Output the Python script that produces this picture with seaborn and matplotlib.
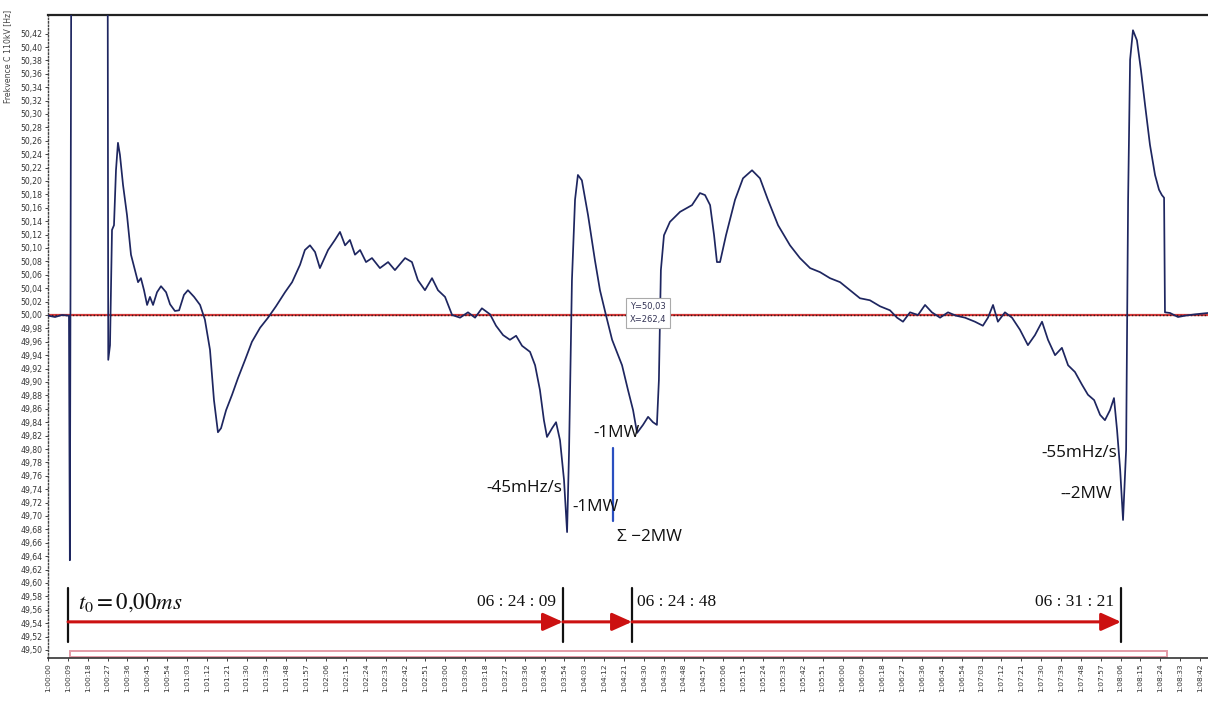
import numpy as np
import pandas as pd
import matplotlib
matplotlib.use("Agg")
import matplotlib.pyplot as plt
import seaborn as sns
from matplotlib.patches import Rectangle

# ---------------- data ----------------
time_s = [0.0, 3.2, 6.3, 9.5, 9.9, 10.6, 27.0, 27.3, 28.1, 29.0, 29.9, 30.8, 31.7, 32.6, 34.0,
          35.8, 37.6, 39.4, 40.8, 42.1, 43.5, 44.9, 46.2, 47.6, 49.4, 51.2, 53.5, 55.3, 57.5,
          59.4, 61.6, 63.4, 66.2, 68.9, 71.1, 73.4, 75.2, 77.0, 78.4, 80.7, 83.4, 86.1, 89.3,
          92.4, 96.1, 99.7, 103.3, 107.4, 110.6, 114.2, 116.4, 118.7, 121.0, 123.2, 126.9,
          130.0, 132.3, 134.6, 136.8, 139.1, 141.4, 144.1, 146.8, 150.4, 154.1, 157.2, 161.8,
          164.9, 167.6, 170.8, 174.0, 176.7, 179.9, 183.1, 186.7, 190.3, 193.5, 196.6, 200.3,
          203.0, 206.2, 209.3, 212.1, 214.8, 218.4, 220.7, 222.9, 224.7, 226.1, 228.4, 230.2,
          232.0, 233.8, 235.2, 236.1, 237.4, 238.8, 240.1, 241.9, 244.7, 247.8, 250.1, 252.8,
          255.6, 258.3, 260.1, 262.8, 265.1, 266.9, 269.6, 271.9, 274.1, 275.9, 276.8, 277.7,
          279.1, 281.8, 286.4, 291.8, 295.4, 297.7, 300.0, 301.8, 303.1, 304.5, 307.2, 311.3,
          314.9, 319.0, 322.6, 326.2, 330.8, 336.2, 340.7, 345.3, 349.8, 354.3, 358.9, 363.4,
          367.9, 372.4, 377.0, 381.5, 384.7, 387.4, 390.6, 394.2, 397.4, 400.5, 404.2, 407.8,
          411.4, 415.5, 420.0, 423.6, 425.9, 428.2, 430.4, 433.6, 436.8, 440.4, 444.0, 447.2,
          450.4, 453.1, 456.3, 459.4, 462.2, 465.3, 468.5, 471.2, 474.0, 476.7, 478.9, 481.2,
          483.0, 484.4, 485.8, 487.1, 488.5, 489.4, 490.3, 491.6, 493.4, 495.2, 497.1, 499.3,
          501.6, 503.4, 504.7, 505.7, 506.1, 508.4, 512.0, 515.2, 519.7, 525.6]
freq_hz = [49.999, 49.997, 50.000, 49.999, 49.634, 50.600, 50.600, 49.933, 49.955, 50.127, 50.134,
           50.216, 50.257, 50.239, 50.194, 50.149, 50.090, 50.067, 50.049, 50.055, 50.037, 50.015,
           50.027, 50.015, 50.034, 50.043, 50.034, 50.016, 50.006, 50.007, 50.030, 50.037, 50.027,
           50.015, 49.993, 49.948, 49.873, 49.825, 49.831, 49.858, 49.881, 49.906, 49.933, 49.960,
           49.981, 49.996, 50.013, 50.034, 50.049, 50.075, 50.097, 50.104, 50.094, 50.070, 50.097,
           50.112, 50.124, 50.104, 50.112, 50.090, 50.097, 50.079, 50.085, 50.070, 50.079, 50.067,
           50.085, 50.079, 50.052, 50.037, 50.055, 50.037, 50.027, 50.000, 49.996, 50.004, 49.996,
           50.010, 50.001, 49.984, 49.970, 49.963, 49.969, 49.954, 49.945, 49.925, 49.888, 49.843,
           49.818, 49.831, 49.840, 49.813, 49.754, 49.676, 49.799, 50.052, 50.172, 50.209, 50.201,
           50.149, 50.082, 50.037, 50.000, 49.963, 49.940, 49.925, 49.888, 49.858, 49.824, 49.836,
           49.848, 49.840, 49.836, 49.903, 50.067, 50.119, 50.139, 50.154, 50.164, 50.182, 50.179,
           50.164, 50.119, 50.079, 50.079, 50.119, 50.172, 50.204, 50.216, 50.204, 50.172, 50.134,
           50.104, 50.085, 50.070, 50.064, 50.055, 50.049, 50.037, 50.025, 50.022, 50.013, 50.007,
           49.996, 49.990, 50.004, 50.000, 50.015, 50.004, 49.996, 50.004, 49.999, 49.996, 49.990,
           49.984, 49.996, 50.015, 49.990, 50.004, 49.996, 49.978, 49.955, 49.970, 49.990, 49.963,
           49.940, 49.951, 49.925, 49.915, 49.896, 49.881, 49.873, 49.851, 49.843, 49.858, 49.876,
           49.828, 49.769, 49.694, 49.799, 50.172, 50.381, 50.425, 50.410, 50.366, 50.313, 50.254,
           50.209, 50.187, 50.179, 50.175, 50.004, 50.003, 49.997, 49.999, 50.001, 50.003]

nominal_hz = 50.0
y_ticks = [round(49.50 + 0.02 * i, 2) for i in range(47)]
x_ticks_s = list(range(0, 523, 9))
x_tick_labels = [f"1:{s // 60:02d}:{s % 60:02d}" for s in x_ticks_s]

# event markers (time in s) and interval labels
marker_times = [9.1, 233.3, 264.6, 486.2]
interval_labels = ["06 : 24 : 09", "06 : 24 : 48", "06 : 31 : 21"]
cursor_label = ["Y=50,03", "X=262,4"]
cursor_pos = (262.4, 50.03)

df = pd.DataFrame({"t": time_s, "f": freq_hz})

# ---------------- figure ----------------
sns.set_theme(style="white")
plt.rcParams["font.family"] = ["DejaVu Sans"]
plt.rcParams["mathtext.fontset"] = "stix"
fig = plt.figure(figsize=(12.08, 7.09), dpi=100)
ax = fig.add_axes([48 / 1208, 1 - 658 / 709, 1 - 48 / 1208, (658 - 15) / 709])

ymin, ymax = 50 - 343 * 0.02 / 13.4, 50 + 300 * 0.02 / 13.4
ax.set_xlim(0, 525.6)
ax.set_ylim(ymin, ymax)

# nominal line (red with dark dotted overlay)
ax.axhline(nominal_hz, color="#d83a3a", lw=1.6, zorder=1)
ax.axhline(nominal_hz, color="#3a1a1a", lw=1.0, ls=(0, (1, 1.5)), zorder=1.5)

sns.lineplot(data=df, x="t", y="f", estimator=None, sort=False, ax=ax,
             color="#1e2660", lw=1.25, zorder=3)

# axes styling
ax.spines["right"].set_visible(False)
ax.spines["top"].set_color("#222222")
ax.spines["top"].set_linewidth(1.6)
ax.spines["bottom"].set_color("#333333")
ax.spines["bottom"].set_linewidth(1.2)
ax.spines["left"].set_color("#444444")
ax.spines["left"].set_linestyle((0, (1, 1.5)))
ax.spines["left"].set_linewidth(1.0)

ax.set_yticks(y_ticks)
ax.set_yticklabels([f"{v:.2f}".replace(".", ",") for v in y_ticks], fontsize=5.6, color="#333333")
ax.set_xticks(x_ticks_s)
ax.set_xticklabels(x_tick_labels, rotation=90, fontsize=5.4, color="#333333")
ax.tick_params(axis="both", which="both", length=2.5, width=0.7, color="#444444", pad=1.5,
               left=True, bottom=True)
ax.set_xlabel("")
ax.set_ylabel("")
fig.text(8 / 1208, 1 - 10 / 709, "Frekvence C 110kV [Hz]", rotation=90, fontsize=5.6,
         color="#444444", ha="center", va="top")

# pink range bar at bottom
ax.add_patch(Rectangle((10.0, ymin + 0.001), 497.0, 0.0095, fill=False,
                       edgecolor="#e39aa6", lw=1.4, zorder=2, clip_on=False))

# cursor box
ax.text(cursor_pos[0] + 1.2, 50.003, "\n".join(cursor_label), fontsize=6,
        color="#333355", ha="left", va="center", linespacing=1.7, zorder=6,
        bbox=dict(boxstyle="square,pad=0.4", fc="white", ec="#aaaaaa", lw=0.8))

# annotations
ann_font = ["Open Sans", "DejaVu Sans"]
ann_kw = dict(fontsize=12.3, color="#111111", family=ann_font, zorder=6)
ax.text(233.2, 49.742, "-45mHz/s", ha="right", va="center", **ann_kw)
ax.text(237.6, 49.713, "-1MW", ha="left", va="center", **ann_kw)
ax.text(247.3, 49.824, "-1MW", ha="left", va="center", **ann_kw)
ax.text(257.6, 49.669, "Σ −2MW", ha="left", va="center", **ann_kw)
ax.text(484.3, 49.794, "-55mHz/s", ha="right", va="center", **ann_kw)
ax.text(482.3, 49.733, "--2MW", ha="right", va="center", **ann_kw)
ax.plot([256.0, 256.0], [49.802, 49.693], color="#2a4fc0", lw=1.6, zorder=5)

# timeline markers and arrows
y_bar_top, y_bar_bot, y_arrow = 49.593, 49.512, 49.542
for t in marker_times:
    ax.plot([t, t], [y_bar_bot, y_bar_top], color="#111111", lw=1.6, zorder=5)
for a, b in zip(marker_times[:-1], marker_times[1:]):
    ax.annotate("", xy=(b, y_arrow), xytext=(a, y_arrow),
                arrowprops=dict(arrowstyle="-|>,head_length=1.0,head_width=0.45",
                                color="#cc1111", lw=2.2, shrinkA=0, shrinkB=0), zorder=5)
serif = ["Liberation Serif", "DejaVu Serif"]
ax.text(13.5, 49.562, r"$t_0 = 0{,}00ms$", fontsize=16.5, va="baseline", ha="left",
        color="#111111", zorder=6)
ax.text(marker_times[1] - 3.0, 49.566, interval_labels[0], fontsize=12.5, family=serif,
        va="baseline", ha="right", color="#111111", zorder=6)
ax.text(marker_times[2] + 2.5, 49.566, interval_labels[1], fontsize=12.5, family=serif,
        va="baseline", ha="left", color="#111111", zorder=6)
ax.text(marker_times[3] - 3.0, 49.566, interval_labels[2], fontsize=12.5, family=serif,
        va="baseline", ha="right", color="#111111", zorder=6)

fig.savefig("out.png", dpi=100)
